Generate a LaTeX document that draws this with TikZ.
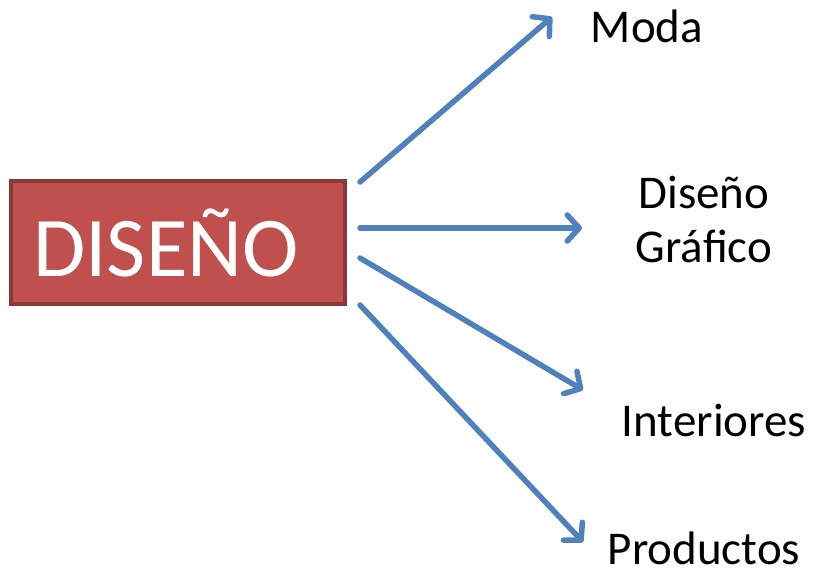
\documentclass[tikz,border=0pt]{standalone}
\usepackage{fontspec}
\setmainfont{Carlito}
\usetikzlibrary{arrows.meta}
\definecolor{boxfill}{HTML}{C0504D}
\definecolor{boxdraw}{HTML}{8C3836}
\definecolor{arrowblue}{HTML}{4F81BD}
\begin{document}
\begin{tikzpicture}[x=1pt,y=-1pt,
  mainbox/.style={draw=boxdraw,fill=boxfill,line width=4pt,minimum width=334pt,minimum height=123pt,inner sep=0pt,text=white,font=\fontsize{85}{95}\selectfont},
  lbl/.style={font=\fontsize{47}{54}\selectfont,inner sep=0pt},
  conn/.style={draw=arrowblue,line width=5.5pt,line cap=round,-{Straight Barb[length=12pt,width=26pt,line cap=round,line join=round]}}]
\useasboundingbox (0,0) rectangle (813,574);
\node[mainbox] (diseno) at (178,242.5) {DISEÑO\kern24pt};
\node[lbl,anchor=center] (moda) at (647,26) {Moda};
\node[lbl,align=center,anchor=center] (grafico) at (704,219) {Diseño\\Gráfico};
\node[lbl,anchor=center] (interiores) at (714,420) {Interiores};
\node[lbl,anchor=center] (productos) at (704,548) {Productos};
\coordinate (s1) at (360,182);
\coordinate (s2) at (360,228);
\coordinate (s3) at (360,258);
\coordinate (s4) at (360,305);
\coordinate (e1) at (552,17);
\coordinate (e2) at (582,228);
\coordinate (e3) at (583,390);
\coordinate (e4) at (583,542);
\draw[conn] (s1) -- (e1);
\draw[conn] (s2) -- (e2);
\draw[conn] (s3) -- (e3);
\draw[conn] (s4) -- (e4);
\end{tikzpicture}
\end{document}
